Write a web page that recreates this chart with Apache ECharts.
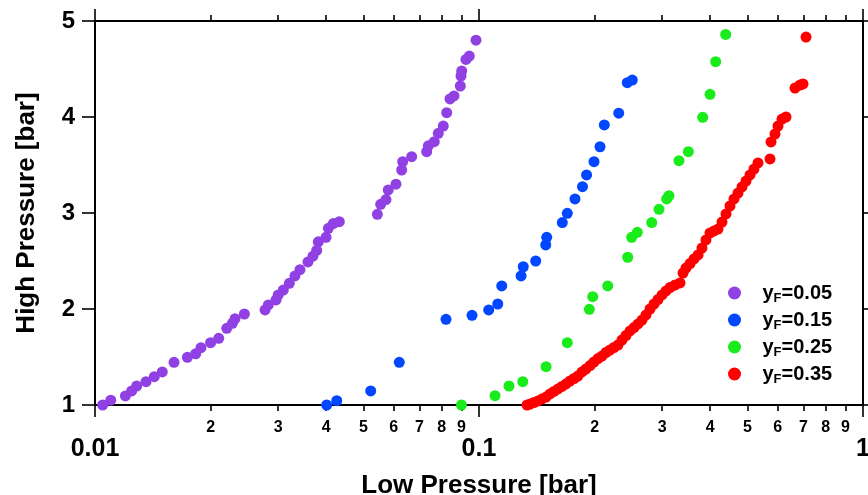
<!DOCTYPE html>
<html>
<head>
<meta charset="utf-8">
<script src="https://cdn.jsdelivr.net/npm/echarts@6/dist/echarts.min.js"></script>
<style>
html,body{margin:0;padding:0;background:#fff;}
#chart{width:868px;height:495px;}
</style>
</head>
<body>
<div id="chart"></div>
<script>
// ---- data ----
const seriesNames = ['y_F=0.05', 'y_F=0.15', 'y_F=0.25', 'y_F=0.35'];
const legendValues = ['0.05', '0.15', '0.25', '0.35'];
const seriesColors = ['#9141e3', '#0047ff', '#1aeb1a', '#ff0000'];

const lowP_005 = [0.01047,0.01099,0.0120,0.01246,0.01284,0.01358,0.01427,0.01497,0.01606,0.0174,0.01829,0.01888,0.0200,0.0210,0.02203,0.02279,0.02316,0.02449,0.02772,0.02827,0.02961,0.0300,0.03093,0.03206,0.03317,0.03418,0.03586,0.03695,0.03778,0.03815,0.03996,0.04052,0.04175,0.04327,0.05436,0.05546,0.05724,0.05803,0.06078,0.0629,0.06328,0.06678,0.07308,0.07379,0.07648,0.07834,0.08072,0.08239,0.08403,0.08607,0.08939,0.08977,0.09015,0.0925,0.09435,0.09822];
const highP_005 = [1.00,1.05,1.094,1.146,1.198,1.243,1.295,1.344,1.445,1.497,1.534,1.597,1.649,1.695,1.799,1.851,1.899,1.948,1.99,2.042,2.094,2.146,2.198,2.268,2.344,2.41,2.49,2.55,2.61,2.70,2.747,2.84,2.89,2.91,2.986,3.09,3.14,3.24,3.30,3.448,3.535,3.587,3.639,3.70,3.743,3.83,3.906,4.045,4.188,4.22,4.323,4.427,4.48,4.60,4.635,4.80];

const lowP_015 = [0.04012,0.04261,0.05224,0.062,0.08205,0.0959,0.106,0.1119,0.1146,0.1287,0.1304,0.1405,0.1492,0.1501,0.1648,0.1698,0.1778,0.186,0.1906,0.1993,0.2066,0.212,0.2311,0.2433,0.2507];
const highP_015 = [1.00,1.045,1.146,1.445,1.893,1.934,1.99,2.052,2.24,2.344,2.44,2.50,2.667,2.747,2.90,2.997,3.146,3.274,3.396,3.535,3.69,3.917,4.04,4.357,4.385];

const lowP_025 = [0.0900,0.1101,0.1197,0.1300,0.1495,0.1698,0.1938,0.1978,0.2164,0.2439,0.2498,0.2584,0.2817,0.2943,0.3082,0.3124,0.3317,0.3509,0.3824,0.3996,0.4134,0.4389];
const highP_025 = [1.00,1.097,1.198,1.243,1.399,1.649,1.997,2.128,2.24,2.539,2.747,2.799,2.90,3.038,3.146,3.18,3.545,3.639,3.997,4.236,4.576,4.86];

const lowP_035 = [0.1334,0.1358,0.1391,0.1424,0.1459,0.1495,0.1531,0.1568,0.1606,0.1645,0.1685,0.1726,0.1768,0.181,0.1854,0.1899,0.1946,0.1993,0.2041,0.2091,0.2141,0.2193,0.2247,0.2301,0.2357,0.2414,0.2473,0.2533,0.2595,0.2658,0.2722,0.2788,0.2856,0.2925,0.2997,0.3069,0.3144,0.3239,0.3338,0.3399,0.346,0.3545,0.3631,0.3719,0.3807,0.39,0.3996,0.4093,0.4192,0.4294,0.4398,0.4504,0.4614,0.4726,0.4841,0.4958,0.5078,0.5201,0.5328,0.5726,0.5761,0.59,0.6007,0.6153,0.6302,0.6652,0.6854,0.6979,0.7106];
const highP_035 = [1.0,1.010,1.026,1.042,1.063,1.083,1.115,1.141,1.167,1.193,1.219,1.25,1.276,1.302,1.344,1.375,1.411,1.448,1.484,1.51,1.547,1.573,1.599,1.625,1.677,1.724,1.771,1.807,1.844,1.885,1.938,2.0,2.052,2.099,2.146,2.188,2.224,2.25,2.271,2.375,2.427,2.474,2.521,2.563,2.635,2.719,2.792,2.813,2.833,2.906,2.99,3.073,3.146,3.208,3.271,3.333,3.396,3.458,3.521,3.563,3.74,3.823,3.906,3.979,4.0,4.302,4.333,4.344,4.833];

const lowSeries = [lowP_005, lowP_015, lowP_025, lowP_035];
const highSeries = [highP_005, highP_015, highP_025, highP_035];

// ---- axis ticks / labels ----
const xMajorTicks = [0.01, 0.1, 1];
const xMajorLabels = ['0.01', '0.1', '1'];
const xMinorTicks = [0.02,0.03,0.04,0.05,0.06,0.07,0.08,0.09,0.2,0.3,0.4,0.5,0.6,0.7,0.8,0.9];
const xMinorLabels = ['2','3','4','5','6','7','8','9','2','3','4','5','6','7','8','9'];
const yTicks = [1, 2, 3, 4, 5];

const FONT = '"Liberation Sans", Arial, Helvetica, sans-serif';

function labelFor(ticks, labels) {
  return function (v) {
    let best = 0, bd = Infinity;
    for (let i = 0; i < ticks.length; i++) {
      const d = Math.abs(Math.log10(v) - Math.log10(ticks[i]));
      if (d < bd) { bd = d; best = i; }
    }
    return labels[best];
  };
}

const axisLineStyle = { color: '#000', width: 2 };

function xAxisDef(position, ticks, tickLen, showLabel, labelOpts) {
  return {
    type: 'log', logBase: 10, min: 0.01, max: 1, position: position,
    gridIndex: 0,
    axisLine: { show: true, onZero: false, lineStyle: axisLineStyle },
    axisTick: { show: true, inside: false, length: tickLen, customValues: ticks, lineStyle: { color: '#000', width: 1.6 } },
    axisLabel: Object.assign({ show: showLabel, customValues: ticks, hideOverlap: false }, labelOpts || {}),
    splitLine: { show: false },
    minorTick: { show: false }, minorSplitLine: { show: false }
  };
}

const chart = echarts.init(document.getElementById('chart'), null, { renderer: 'canvas' });

const option = {
  animation: false,
  backgroundColor: '#fff',
  grid: { left: 95, right: 5, top: 21, bottom: 90, containLabel: false, outerBoundsMode: 'none' },
  xAxis: [
    Object.assign(xAxisDef('bottom', xMajorTicks, 12, true, {
      margin: 32, fontSize: 25, fontWeight: 'bold', color: '#000', fontFamily: FONT,
      formatter: labelFor(xMajorTicks, xMajorLabels)
    }), {
      name: 'Low Pressure [bar]', nameLocation: 'middle', nameGap: 68, nameMoveOverlap: false,
      nameTextStyle: { fontSize: 26, fontWeight: 'bold', color: '#000', fontFamily: FONT }
    }),
    xAxisDef('bottom', xMinorTicks, 6, true, {
      margin: 15, fontSize: 16, fontWeight: 'bold', color: '#000', fontFamily: FONT,
      formatter: labelFor(xMinorTicks, xMinorLabels)
    }),
    xAxisDef('top', xMajorTicks, 12, false),
    xAxisDef('top', xMinorTicks, 6, false)
  ],
  yAxis: [
    {
      type: 'value', min: 1, max: 5, interval: 1, position: 'left',
      name: 'High Pressure [bar]', nameLocation: 'middle', nameGap: 55, nameMoveOverlap: false,
      nameTextStyle: { fontSize: 26, fontWeight: 'bold', color: '#000', fontFamily: FONT },
      axisLine: { show: true, onZero: false, lineStyle: axisLineStyle },
      axisTick: { show: true, inside: false, length: 13, lineStyle: { color: '#000', width: 1.6 } },
      axisLabel: { show: true, margin: 20, fontSize: 24, fontWeight: 'bold', color: '#000', fontFamily: FONT,
        formatter: function (v) { return String(v); } },
      splitLine: { show: false }
    },
    {
      type: 'value', min: 1, max: 5, interval: 1, position: 'right',
      axisLine: { show: true, onZero: false, lineStyle: axisLineStyle },
      axisTick: { show: true, inside: false, length: 6, lineStyle: { color: '#000', width: 1.6 } },
      axisLabel: { show: false },
      splitLine: { show: false }
    }
  ],
  legend: {
    orient: 'vertical',
    left: 723, top: 278,
    itemWidth: 46, itemHeight: 13, itemGap: 5,
    icon: 'circle',
    data: seriesNames,
    formatter: function (name) {
      const i = seriesNames.indexOf(name);
      return '{m|y}{s|F}{m|=' + legendValues[i] + '}';
    },
    textStyle: {
      color: '#000', fontFamily: FONT, fontWeight: 'bold',
      rich: {
        m: { fontSize: 20, fontWeight: 'bold', fontFamily: FONT, color: '#000', lineHeight: 24 },
        s: { fontSize: 13, fontWeight: 'bold', fontFamily: FONT, color: '#000', lineHeight: 14, verticalAlign: 'bottom' }
      }
    }
  },
  series: seriesNames.map(function (name, si) {
    return {
      name: name, type: 'scatter', xAxisIndex: 0, yAxisIndex: 0,
      symbol: 'circle', symbolSize: 11,
      itemStyle: { color: seriesColors[si], opacity: 1 },
      emphasis: { disabled: true },
      data: lowSeries[si].map(function (x, k) { return [x, highSeries[si][k]]; })
    };
  })
};

chart.setOption(option);
</script>
</body>
</html>
